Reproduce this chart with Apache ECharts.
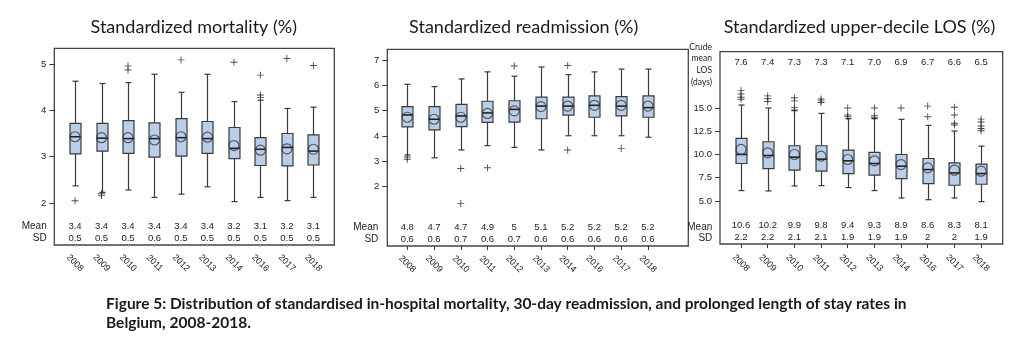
<!DOCTYPE html>
<html>
<head>
<meta charset="utf-8">
<script src="https://cdn.jsdelivr.net/npm/echarts@6/dist/echarts.min.js"></script>
<style>
html,body{margin:0;padding:0;background:#fff;}
#c{width:1021px;height:349px;}
</style>
</head>
<body>
<div id="c"></div>
<script>
// ---------- data ----------
const years = ['2008','2009','2010','2011','2012','2013','2014','2016','2017','2018'];

// Panel 1: standardized mortality (%)
const mortMin = [2.37, 2.23, 2.28, 2.12, 2.19, 2.35, 2.03, 2.12, 2.05, 2.12];
const mortQ1  = [3.06, 3.12, 3.07, 2.99, 3.01, 3.07, 2.96, 2.81, 2.80, 2.82];
const mortMed = [3.43, 3.40, 3.39, 3.39, 3.41, 3.39, 3.18, 3.16, 3.20, 3.12];
const mortQ3  = [3.72, 3.72, 3.78, 3.73, 3.82, 3.76, 3.63, 3.41, 3.50, 3.47];
const mortMax = [4.63, 4.58, 4.60, 4.78, 4.39, 4.78, 4.19, 4.22, 4.04, 4.07];
const mortMeanPt = [3.43, 3.41, 3.41, 3.36, 3.43, 3.42, 3.24, 3.14, 3.17, 3.16];
const mortOutliers = [['2008',2.05],['2009',2.20],['2009',2.16],['2010',4.96],['2010',4.87],
  ['2012',5.09],['2014',5.04],['2016',4.76],['2016',4.33],['2016',4.28],['2017',5.12],['2018',4.97]];
const mortMean = ['3.4','3.4','3.4','3.4','3.4','3.4','3.2','3.1','3.2','3.1'];
const mortSD   = ['0.5','0.5','0.5','0.6','0.5','0.5','0.5','0.5','0.5','0.5'];
const mortTicks = [2, 3, 4, 5];

// Panel 2: standardized readmission (%)
const readMin = [3.25, 3.14, 3.45, 3.62, 3.55, 3.45, 4.01, 4.01, 4.01, 3.95];
const readQ1  = [4.36, 4.24, 4.37, 4.54, 4.55, 4.68, 4.82, 4.74, 4.79, 4.74];
const readMed = [4.83, 4.66, 4.79, 4.91, 5.05, 5.18, 5.18, 5.21, 5.18, 5.12];
const readQ3  = [5.16, 5.16, 5.25, 5.37, 5.39, 5.53, 5.53, 5.58, 5.55, 5.58];
const readMax = [6.04, 5.95, 6.25, 6.53, 6.36, 6.72, 6.42, 6.53, 6.64, 6.64];
const readMeanPt = [4.74, 4.66, 4.74, 4.89, 4.99, 5.16, 5.18, 5.21, 5.21, 5.18];
const readOutliers = [['2008',3.17],['2008',3.08],['2010',2.72],['2010',1.34],['2011',2.75],
  ['2012',6.76],['2014',6.78],['2014',3.45],['2017',3.51]];
const readMean = ['4.8','4.7','4.7','4.9','5','5.1','5.2','5.2','5.2','5.2'];
const readSD   = ['0.6','0.6','0.7','0.6','0.7','0.6','0.6','0.6','0.6','0.6'];
const readTicks = [2, 3, 4, 5, 6, 7];

// Panel 3: standardized upper-decile LOS (%)
const losMin = [6.12, 6.08, 6.62, 6.65, 6.44, 6.12, 5.32, 5.14, 5.32, 4.93];
const losQ1  = [9.03, 8.49, 8.31, 8.20, 7.95, 7.77, 7.41, 6.87, 6.69, 6.80];
const losMed = [10.0, 9.89, 9.71, 9.50, 9.32, 9.03, 8.74, 8.38, 8.02, 7.95];
const losQ3  = [11.73, 11.37, 10.94, 10.94, 10.47, 10.22, 10.0, 9.57, 9.10, 8.96];
const losMax = [15.32, 15.0, 14.71, 14.42, 13.85, 13.85, 13.78, 13.13, 12.52, 10.9];
const losMeanPt = [10.54, 10.18, 10.0, 9.82, 9.46, 9.32, 8.92, 8.56, 8.31, 8.2];
const losOutliers = [['2008',16.87],['2008',16.51],['2008',16.15],['2008',15.94],
  ['2009',16.3],['2009',16.0],['2009',15.7],
  ['2010',16.1],['2010',15.76],['2010',15.04],['2010',14.8],
  ['2011',15.97],['2011',15.76],['2011',15.58],
  ['2012',15.0],['2012',14.25],['2012',14.05],
  ['2013',15.0],['2013',14.17],['2013',13.95],
  ['2014',15.0],['2016',15.2],['2016',14.06],
  ['2017',15.07],['2017',14.24],['2017',13.35],['2017',13.17],
  ['2018',13.8],['2018',13.5],['2018',13.06],['2018',12.8],['2018',12.55]];
const losMean = ['10.6','10.2','9.9','9.8','9.4','9.3','8.9','8.6','8.3','8.1'];
const losSD   = ['2.2','2.2','2.1','2.1','1.9','1.9','1.9','2','2','1.9'];
const losCrude = ['7.6','7.4','7.3','7.3','7.1','7.0','6.9','6.7','6.6','6.5'];
const losTicks = [5, 7.5, 10, 12.5, 15];

// ---------- styling helpers ----------
const DARK = '#3a3a3a';
const FILL = '#b9cfe9';
const AX_FONT = 'Liberation Sans, Arial, sans-serif';
const TITLE_FONT = 'Lato, sans-serif';

function boxRows(mn, q1, md, q3, mx) {
  return years.map((y, i) => [i, mn[i], q1[i], md[i], q3[i], mx[i]]);
}
function renderBox(params, api) {
  const x = api.value(0);
  const pMin = api.coord([x, api.value(1)]);
  const pQ1 = api.coord([x, api.value(2)]);
  const pMed = api.coord([x, api.value(3)]);
  const pQ3 = api.coord([x, api.value(4)]);
  const pMax = api.coord([x, api.value(5)]);
  const cx = Math.round(pMed[0]) + 0.5;
  const hw = 5.5, cw = 3;
  const st = {stroke: DARK, lineWidth: 1.2};
  return {type: 'group', children: [
    {type: 'line', shape: {x1: cx, y1: pQ3[1], x2: cx, y2: pMax[1]}, style: st},
    {type: 'line', shape: {x1: cx, y1: pQ1[1], x2: cx, y2: pMin[1]}, style: st},
    {type: 'line', shape: {x1: cx - cw, y1: pMax[1], x2: cx + cw, y2: pMax[1]}, style: st},
    {type: 'line', shape: {x1: cx - cw, y1: pMin[1], x2: cx + cw, y2: pMin[1]}, style: st},
    {type: 'rect', shape: {x: cx - hw, y: pQ3[1], width: 2 * hw, height: pQ1[1] - pQ3[1]},
      style: {fill: FILL, stroke: DARK, lineWidth: 1.2}},
    {type: 'line', shape: {x1: cx - hw, y1: pMed[1], x2: cx + hw, y2: pMed[1]},
      style: {stroke: '#222', lineWidth: 1.6}}
  ]};
}
const PLUS = 'path://M-0.13,-1 L0.13,-1 L0.13,-0.13 L1,-0.13 L1,0.13 L0.13,0.13 L0.13,1 L-0.13,1 L-0.13,0.13 L-1,0.13 L-1,-0.13 L-0.13,-0.13 Z';

// panel layouts (frame & inner data grid)
const panels = [
  {frame: {left: 54.3, top: 48.3, width: 280, height: 196.7}, data: {left: 61.8, width: 264.8},
   min: 1.093, max: 5.34, ticks: mortTicks, dec: 0, tickLen: 2, tickColor: '#bbb', labMargin: 18,
   rows: boxRows(mortMin, mortQ1, mortMed, mortQ3, mortMax), meanPt: mortMeanPt,
   outliers: mortOutliers, mean: mortMean, sd: mortSD},
  {frame: {left: 387.3, top: 49.3, width: 301, height: 196.7}, data: {left: 393.9, width: 267.4},
   min: -0.34, max: 7.42, ticks: readTicks, dec: 0, tickLen: 4, tickColor: DARK, labMargin: 18,
   rows: boxRows(readMin, readQ1, readMed, readQ3, readMax), meanPt: readMeanPt,
   outliers: readOutliers, mean: readMean, sd: readSD},
  {frame: {left: 720, top: 51.7, width: 282.7, height: 192.3}, data: {left: 727.7, width: 266.7},
   min: 0.376, max: 21.05, ticks: losTicks, dec: 1, tickLen: 4, tickColor: DARK, labMargin: 19,
   rows: boxRows(losMin, losQ1, losMed, losQ3, losMax), meanPt: losMeanPt,
   outliers: losOutliers, mean: losMean, sd: losSD, crude: losCrude}
];

const grid = [], xAxis = [], yAxis = [], series = [];
panels.forEach((p, k) => {
  const gFrame = grid.length;
  grid.push({left: p.frame.left, top: p.frame.top, width: p.frame.width, height: p.frame.height,
    show: true, borderColor: '#444', borderWidth: 1.3, backgroundColor: 'transparent',
    outerBoundsMode: 'none', containLabel: false});
  const gData = grid.length;
  grid.push({left: p.data.left, top: p.frame.top, width: p.data.width, height: p.frame.height,
    outerBoundsMode: 'none', containLabel: false});

  // frame axes
  xAxis.push({gridIndex: gFrame, type: 'value', show: false, min: 0, max: 1,
    axisLine: {onZero: false}});
  yAxis.push({gridIndex: gFrame, type: 'value', min: p.min, max: p.max,
    axisLine: {show: false, onZero: false}, splitLine: {show: false},
    axisTick: {show: true, customValues: p.ticks, length: 5, lineStyle: {color: DARK, width: 1}},
    axisLabel: {show: true, customValues: p.ticks, margin: 8, fontFamily: AX_FONT, fontSize: 9.5,
      color: '#222', formatter: v => Number(v).toFixed(p.dec)}});

  // data axes
  const xData = xAxis.length;
  xAxis.push({gridIndex: gData, type: 'category', data: years, position: 'bottom',
    axisLine: {show: false, onZero: false},
    axisTick: {show: true, alignWithLabel: true, length: p.tickLen, lineStyle: {color: p.tickColor}},
    axisLabel: {interval: 0, rotate: -45, margin: p.labMargin, align: 'center', verticalAlign: 'middle',
      fontFamily: AX_FONT, fontSize: 9, color: '#222'}});
  xAxis.push({gridIndex: gData, type: 'category', data: years, position: 'bottom',
    axisLine: {show: false, onZero: false}, axisTick: {show: false},
    axisLabel: {interval: 0, inside: true, margin: 1, fontFamily: AX_FONT, fontSize: 9.5,
      lineHeight: 12, color: '#222',
      formatter: (v, i) => p.mean[i] + '\n' + p.sd[i]}});
  if (p.crude) {
    xAxis.push({gridIndex: gData, type: 'category', data: years, position: 'top',
      axisLine: {show: false, onZero: false}, axisTick: {show: false},
      axisLabel: {interval: 0, inside: true, margin: 6, fontFamily: AX_FONT, fontSize: 9.5,
        color: '#222', formatter: (v, i) => p.crude[i]}});
  }
  const yData = yAxis.length;
  yAxis.push({gridIndex: gData, type: 'value', min: p.min, max: p.max, show: false,
    axisLine: {onZero: false}, splitLine: {show: false}});

  series.push({type: 'custom', xAxisIndex: xData, yAxisIndex: yData,
    renderItem: renderBox, data: p.rows, encode: {x: 0, y: [1, 2, 3, 4, 5]}, z: 3,
    silent: true});
  series.push({type: 'scatter', xAxisIndex: xData, yAxisIndex: yData,
    data: years.map((y, i) => [y, p.meanPt[i]]), symbol: 'circle', symbolSize: 10,
    itemStyle: {color: 'rgba(0,0,0,0)', borderColor: DARK, borderWidth: 1.2}, z: 4, silent: true});
  series.push({type: 'scatter', xAxisIndex: xData, yAxisIndex: yData,
    data: p.outliers, symbol: PLUS, symbolSize: 7,
    itemStyle: {color: '#222'}, z: 4, silent: true});
});

const smallText = (txt, x, y, size, font, align) => ({type: 'text', x: x, y: y,
  style: {text: txt, x: 0, y: 0, align: align || 'right', verticalAlign: 'middle',
    font: size + 'px ' + font, fill: '#222'}});

const graphic = [
  {type: 'text', x: 193.8, y: 27, style: {text: 'Standardized mortality (%)', align: 'center',
    verticalAlign: 'middle', font: '18px ' + TITLE_FONT, fill: '#1a1a1a'}},
  {type: 'text', x: 523.7, y: 27, style: {text: 'Standardized readmission (%)', align: 'center',
    verticalAlign: 'middle', font: '18px ' + TITLE_FONT, fill: '#1a1a1a'}},
  {type: 'text', x: 859.5, y: 27, style: {text: 'Standardized upper-decile LOS (%)', align: 'center',
    verticalAlign: 'middle', font: '18px ' + TITLE_FONT, fill: '#1a1a1a'}},
  smallText('Mean', 46.7, 226, 10, AX_FONT), smallText('SD', 46.7, 238, 10, AX_FONT),
  smallText('Mean', 378.3, 227, 10, AX_FONT), smallText('SD', 378.3, 239, 10, AX_FONT),
  smallText('Mean', 712.3, 227, 10, AX_FONT), smallText('SD', 712.3, 238.5, 10, AX_FONT),
  {type: 'text', x: 712, y: 64.5, style: {text: 'Crude\nmean\nLOS\n(days)', align: 'right',
    verticalAlign: 'middle', font: '8.5px ' + TITLE_FONT, lineHeight: 11.8, fill: '#222'}},
  {type: 'text', x: 106, y: 304, style: {text: 'Figure 5: Distribution of standardised in-hospital mortality, 30-day readmission, and prolonged length of stay rates in',
    align: 'left', verticalAlign: 'middle', font: 'bold 15.5px ' + TITLE_FONT, fill: '#1a1a1a'}},
  {type: 'text', x: 106, y: 323, style: {text: 'Belgium, 2008-2018.',
    align: 'left', verticalAlign: 'middle', font: 'bold 15.5px ' + TITLE_FONT, fill: '#1a1a1a'}}
];

const chart = echarts.init(document.getElementById('c'), null, {renderer: 'canvas'});
chart.setOption({
  animation: false,
  backgroundColor: '#fff',
  grid: grid, xAxis: xAxis, yAxis: yAxis, series: series, graphic: graphic,
  tooltip: {show: false}
});
</script>
</body>
</html>
